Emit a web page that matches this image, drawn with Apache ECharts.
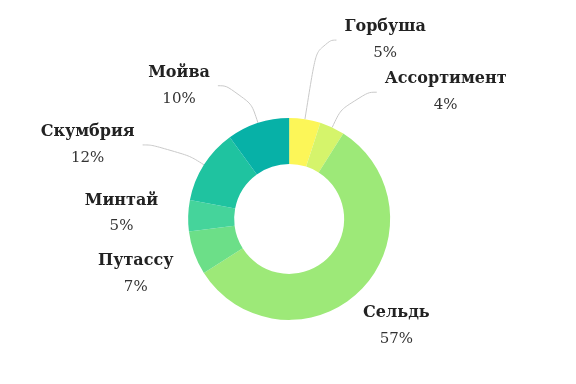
<!DOCTYPE html>
<html><head><meta charset="utf-8">
<script src="https://cdn.jsdelivr.net/npm/echarts@6/dist/echarts.min.js"></script>
<style>html,body{margin:0;padding:0;background:#fff}#c{width:576px;height:384px}</style>
</head><body><div id="c"></div>
<script>
const categories = ['Горбуша','Ассортимент','Сельдь','Путассу','Минтай','Скумбрия','Мойва'];
const values = [5, 4, 57, 7, 5, 12, 10];
const colors = ['#fcf658','#d5f46b','#9de978','#6cdf88','#45d49b','#1fc3a0','#07b1a7'];
// label line lengths [length, length2, visible]
const lineLen = [[80,19,true],[39,28,true],[5,0,false],[5,8,false],[8,14,false],[37,30,true],[39,28,true]];
const labelDx = [0,0,-9,0,0,0,0];
const labelDy = [0,0,32,19,-2,0,0];

const chart = echarts.init(document.getElementById('c'), null, {renderer:'canvas'});
chart.setOption({
  animation:false,
  series:[{
    type:'pie',
    center:['50.2%','57%'],
    radius:[55,101],
    startAngle:90,
    clockwise:true,
    avoidLabelOverlap:false,
    data: categories.map((n,i)=>({
      name:n, value:values[i],
      itemStyle:{color:colors[i]},
      labelLine:{show:lineLen[i][2], length:lineLen[i][0], length2:lineLen[i][1]}
    })),
    label:{
      show:true,
      formatter:'{n|{b}}\n{p|{c}%}',
      distanceToLabelLine:8,
      rich:{
        n:{fontFamily:'DejaVu Serif',fontWeight:'bold',fontSize:16,color:'#222',lineHeight:26,align:'center'},
        p:{fontFamily:'DejaVu Serif',fontSize:15,color:'#333',lineHeight:26,align:'center'}
      }
    },
    labelLine:{smooth:0.7,lineStyle:{color:'#c9c9c9',width:1}},
    labelLayout:function(p){ return {dx: labelDx[p.dataIndex], dy: labelDy[p.dataIndex]}; }
  }]
});
</script></body></html>
